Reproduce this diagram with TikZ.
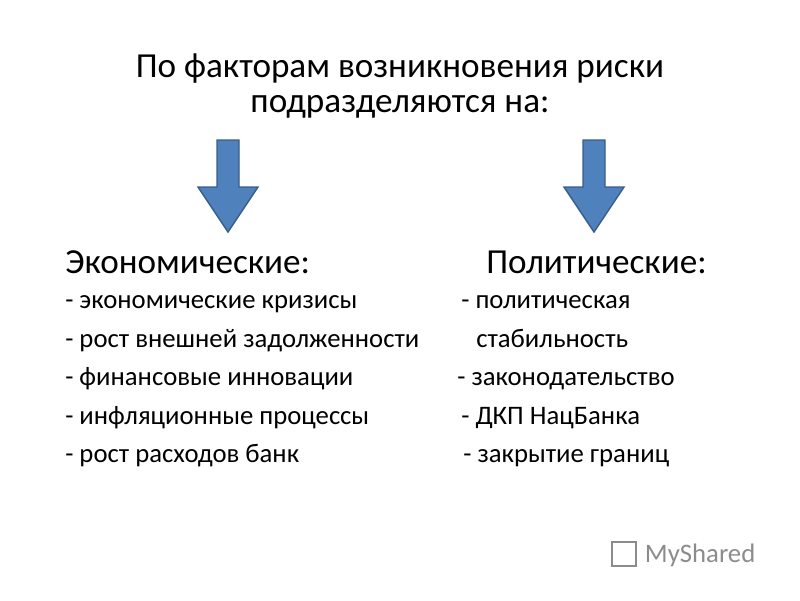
\documentclass[tikz,border=0pt]{standalone}
\usepackage{fontspec}
\setmainfont{Carlito}
\definecolor{ArrowFill}{HTML}{4F81BD}
\definecolor{ArrowLine}{HTML}{385D8A}
\tikzset{
  title/.style={font=\fontsize{25}{25}\selectfont, align=center},
  head/.style={anchor=base west, font=\fontsize{25}{28}\selectfont, inner sep=0},
  item/.style={anchor=base west, font=\fontsize{19}{22}\selectfont, inner sep=0},
  blockarrow/.style={fill=ArrowFill, draw=ArrowLine, line width=1pt}
}
\begin{document}
\begin{tikzpicture}[x=0.025cm,y=-0.025cm]
\useasboundingbox (0,0) rectangle (800,600);

\def \ArrowTop {140}
\def \ArrowNeck {187}
\def \ArrowTip {232}

\node[title] (title) at (400,86) {По факторам возникновения риски\\подразделяются на:};

% стрелки
\foreach \cx in {228,594}{
  \draw[blockarrow] (\cx-11,\ArrowTop) -- (\cx+11,\ArrowTop) -- (\cx+11,\ArrowNeck)
    -- (\cx+30,\ArrowNeck) -- (\cx,\ArrowTip) -- (\cx-30,\ArrowNeck)
    -- (\cx-11,\ArrowNeck) -- cycle;
}

% левая колонка
\node[head] (econ) at (65,273) {Экономические:};
\foreach \t [count=\i] in {- экономические кризисы,- рост внешней задолженности,%
  - финансовые инновации,- инфляционные процессы,- рост расходов банк}{
  \node[item] (econ\i) at (65,270+38.5*\i) {\t};
}

% правая колонка
\node[head] (polit) at (486,273) {Политические:};
\node[item] (polit1) at (461,308.5) {- политическая};
\node[item] (polit2) at (476,347) {стабильность};
\node[item] (polit3) at (457,385.5) {- законодательство};
\node[item] (polit4) at (461,424) {- ДКП НацБанка};
\node[item] (polit5) at (463,462.5) {- закрытие границ};

% водяной знак
\node[anchor=west, text=black!45, font=\fontsize{19}{22}\selectfont] (mark) at (640,555) {MyShared};
\draw[black!45, line width=2pt] (612,542) rectangle (636,566);
\end{tikzpicture}
\end{document}
